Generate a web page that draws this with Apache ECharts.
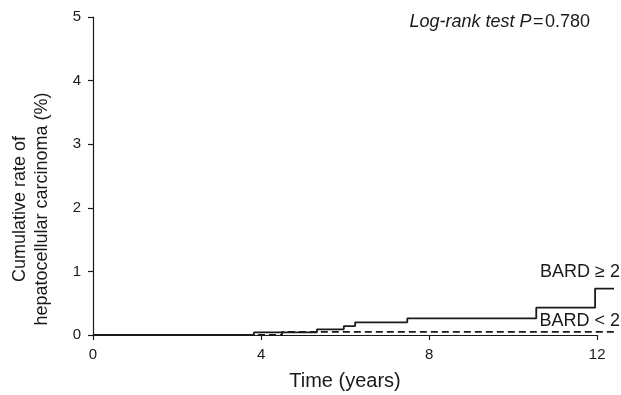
<!DOCTYPE html>
<html><head><meta charset="utf-8">
<script src="https://cdn.jsdelivr.net/npm/echarts@6/dist/echarts.min.js"></script>
<style>html,body{margin:0;padding:0;background:#fff}#c{width:621px;height:395px}</style>
</head><body><div id="c"></div>
<script>
const bardHighTimes = [0, 3.83, 5.33, 5.97, 6.24, 7.48, 10.55, 11.95, 12.4];
const bardHighRates = [0, 0.04, 0.09, 0.14, 0.20, 0.26, 0.43, 0.73, 0.73];
const bardLowTimes = [0, 4.5, 12.4];
const bardLowRates = [0, 0.05, 0.05];
const xTicks = [0, 4, 8, 12];
const yTicks = [0, 1, 2, 3, 4, 5];
const seriesNames = ['BARD \u2265 2', 'BARD < 2'];

const ink = '#1a1a1a';
const font = 'Liberation Sans, Arial, sans-serif';
const chart = echarts.init(document.getElementById('c'));
chart.setOption({
  animation: false,
  grid: {left: 93, right: 7, top: 17, bottom: 60},
  xAxis: {
    type: 'value', min: 0, max: 12.4, interval: 4,
    axisLine: {show: false},
    axisTick: {show: true, length: 5, customValues: xTicks, lineStyle: {color: ink, width: 1.2}},
    axisLabel: {color: ink, fontSize: 15, fontFamily: font, margin: 12, customValues: xTicks},
    splitLine: {show: false}
  },
  yAxis: {
    type: 'value', min: 0, max: 5, interval: 1,
    axisLine: {show: true, lineStyle: {color: ink, width: 1.2}},
    axisTick: {show: true, length: 5, customValues: yTicks, lineStyle: {color: ink, width: 1.2}},
    axisLabel: {color: ink, fontSize: 15, fontFamily: font, margin: 12, customValues: yTicks},
    splitLine: {show: false}
  },
  series: [
    {
      name: seriesNames[0], type: 'line', step: 'end', symbol: 'none',
      data: bardHighTimes.map((t, i) => [t, bardHighRates[i]]),
      lineStyle: {color: ink, width: 1.8},
      markLine: {
        silent: true, symbol: 'none', label: {show: false},
        lineStyle: {color: ink, width: 1.2, type: 'solid'},
        data: [[{coord: [xTicks[0], 0]}, {coord: [xTicks[xTicks.length - 1], 0]}]]
      },
      z: 3
    },
    {
      name: seriesNames[1], type: 'line', step: 'end', symbol: 'none',
      data: bardLowTimes.map((t, i) => [t, bardLowRates[i]]),
      lineStyle: {color: ink, width: 1.8, type: [7, 4]},
      z: 2
    }
  ],
  graphic: [
    {type: 'text', x: 20, y: 209, rotation: Math.PI / 2,
      style: {text: 'Cumulative rate of', font: '18px ' + font, fill: ink, textAlign: 'center', textVerticalAlign: 'middle'}},
    {type: 'text', x: 42, y: 209, rotation: Math.PI / 2,
      style: {text: 'hepatocellular carcinoma (%)', font: '18px ' + font, fill: ink, textAlign: 'center', textVerticalAlign: 'middle'}},
    {type: 'text', x: 345, y: 381,
      style: {text: 'Time (years)', font: '20px ' + font, fill: ink, textAlign: 'center', textVerticalAlign: 'middle'}},
    {type: 'text', x: 590, y: 22,
      style: {text: '{i|Log-rank test P}{n|\u200a=\u200a0.780}', textAlign: 'right', textVerticalAlign: 'middle',
        rich: {i: {font: 'italic 18px ' + font, fill: ink}, n: {font: '18px ' + font, fill: ink}}}},
    {type: 'text', x: 620, y: 272,
      style: {text: seriesNames[0], font: '18px ' + font, fill: ink, textAlign: 'right', textVerticalAlign: 'middle'}},
    {type: 'text', x: 620, y: 321,
      style: {text: seriesNames[1], font: '18px ' + font, fill: ink, textAlign: 'right', textVerticalAlign: 'middle'}}
  ]
});
</script></body></html>
